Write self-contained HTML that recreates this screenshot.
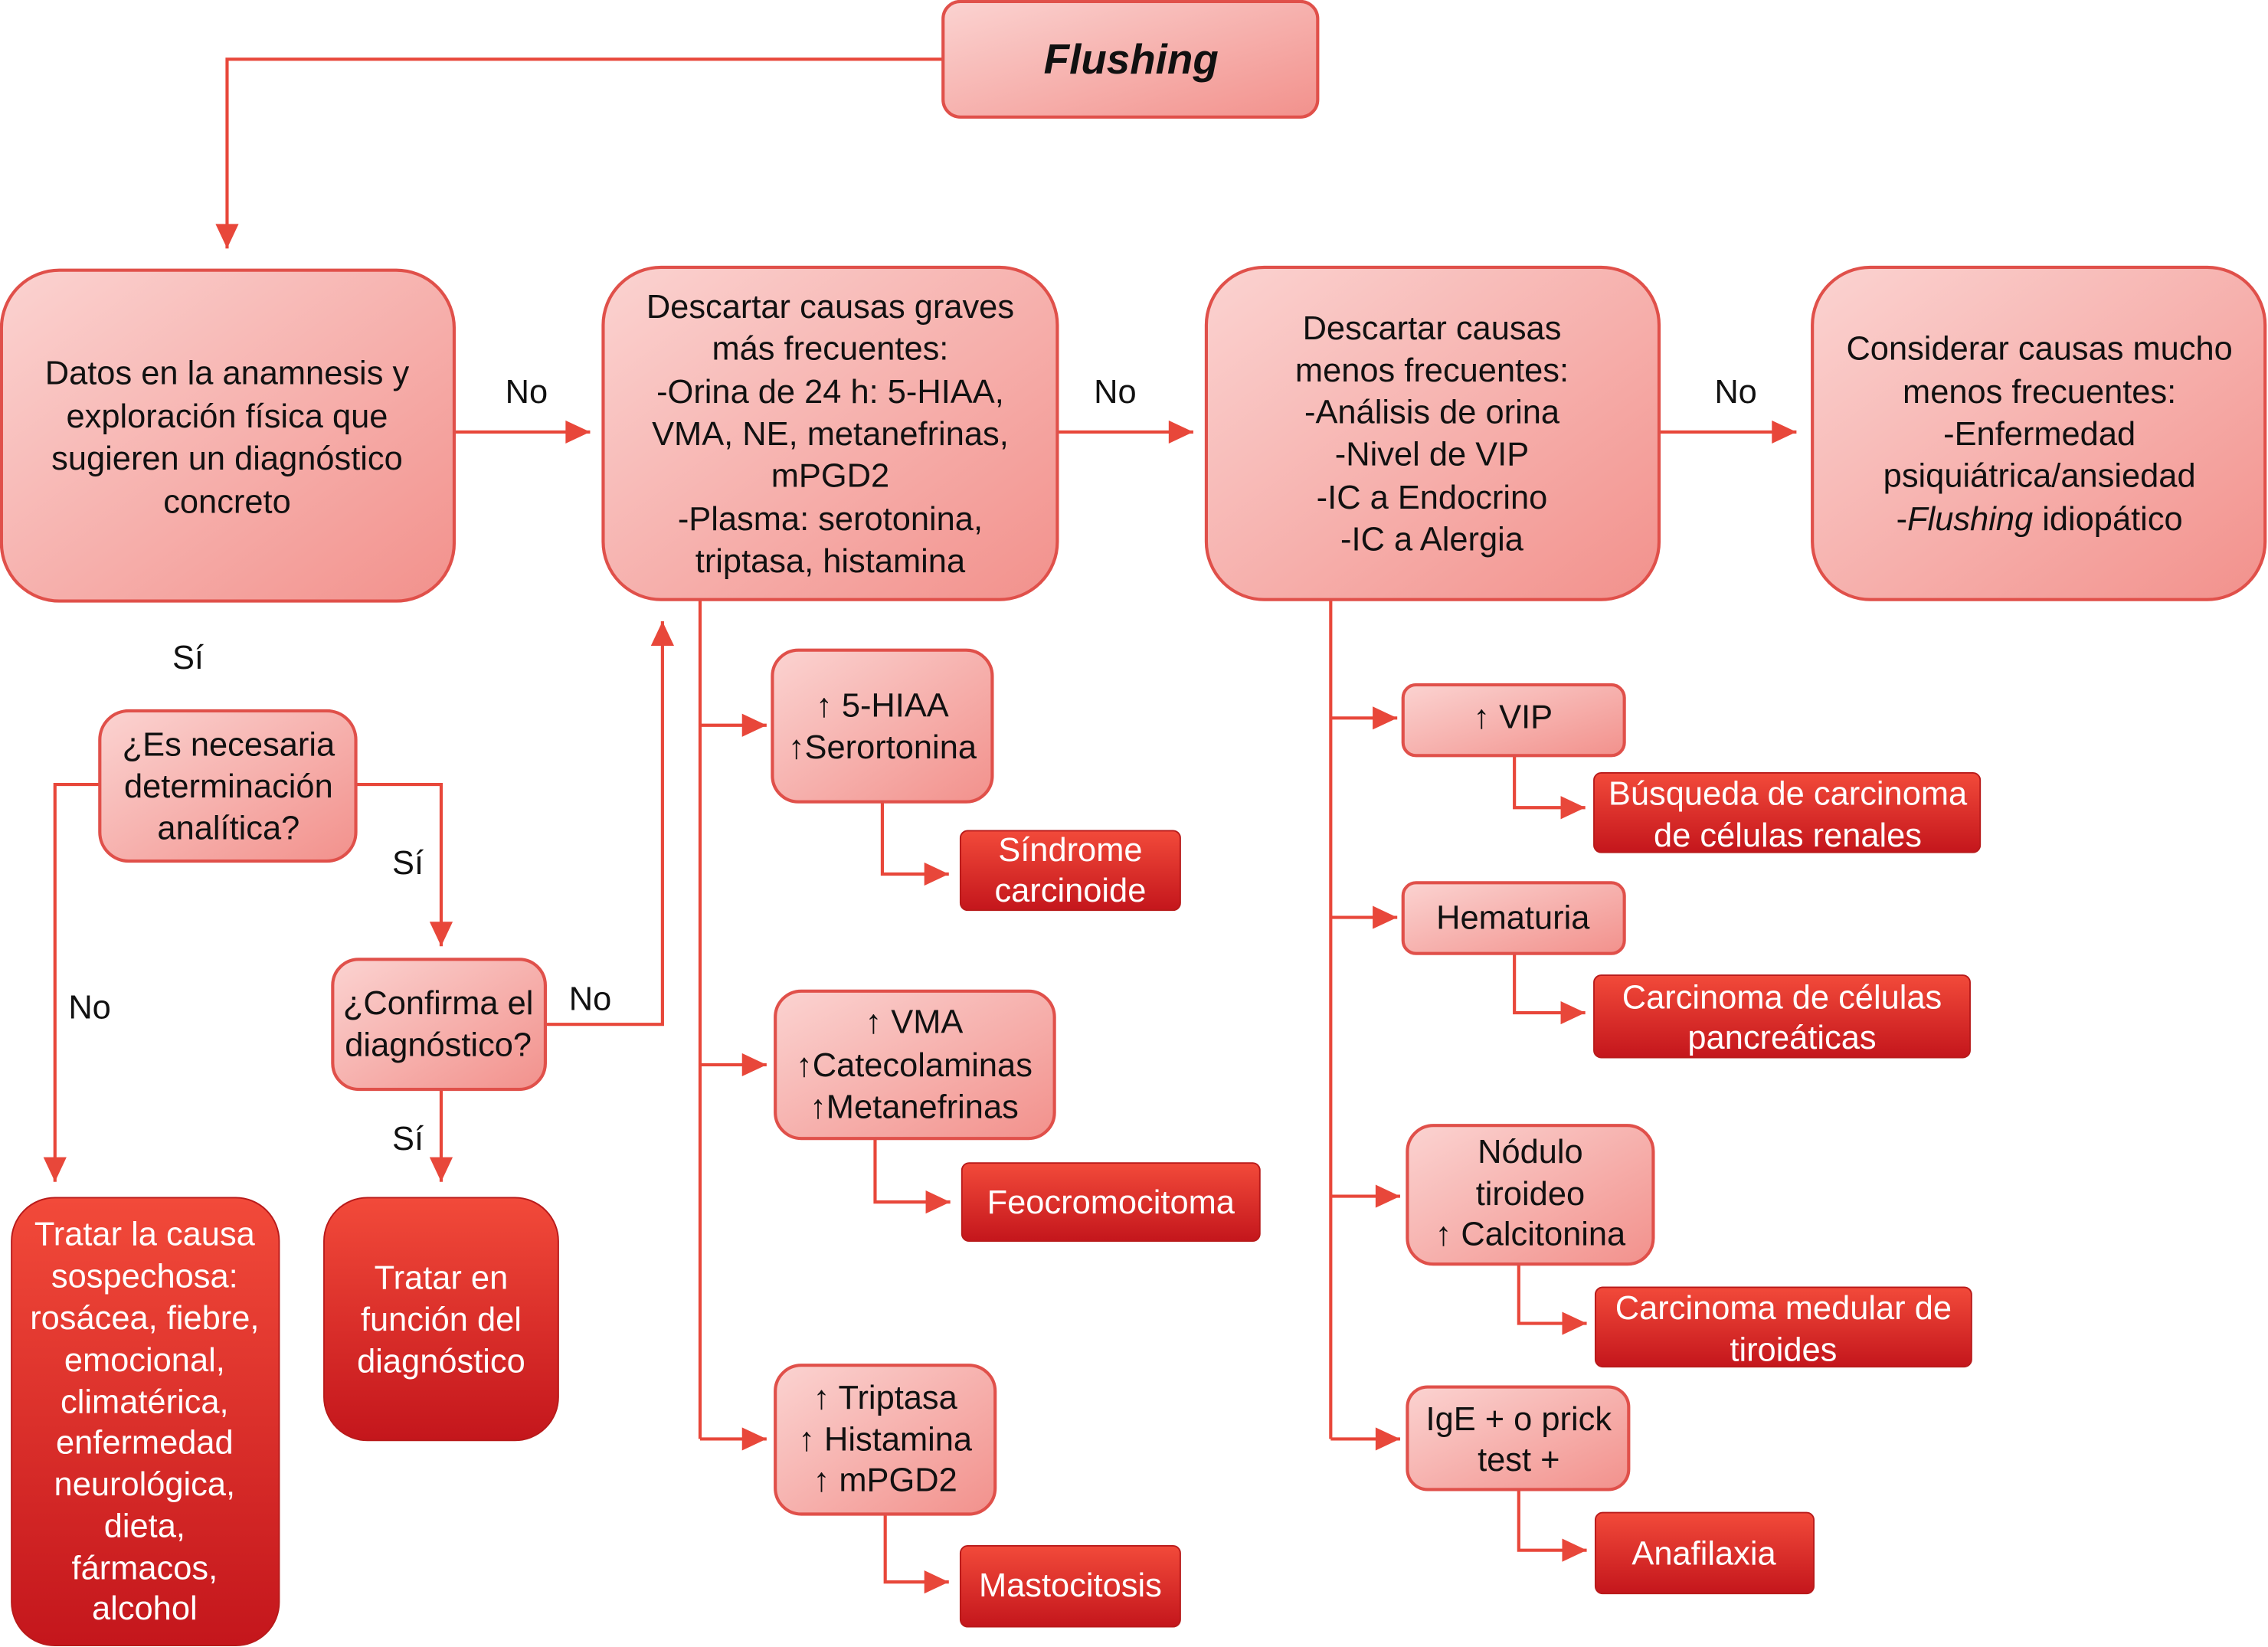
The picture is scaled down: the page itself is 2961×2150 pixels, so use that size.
<!DOCTYPE html>
<html><head><meta charset="utf-8"><style>
html,body{margin:0;padding:0;background:#fff;}
svg{display:block}
text{font-family:"Liberation Sans",Arial,sans-serif;font-size:23px;fill:#111;text-anchor:middle;}
.w{fill:#fff}
</style></head><body>
<svg width="2961" height="2150" viewBox="0 0 1568 1140" preserveAspectRatio="none" xmlns="http://www.w3.org/2000/svg">
<defs>
<linearGradient id="p" x1="0" y1="0" x2="1" y2="1"><stop offset="0" stop-color="#fbd3d1"/><stop offset="1" stop-color="#f2918c"/></linearGradient>
<linearGradient id="d" x1="0" y1="0" x2="0" y2="1"><stop offset="0" stop-color="#f24a3a"/><stop offset="1" stop-color="#c4161c"/></linearGradient>
<marker id="a" markerWidth="10" markerHeight="10" refX="9" refY="5" orient="auto" markerUnits="userSpaceOnUse" viewBox="0 0 10 10" style="overflow:visible"><path d="M-8,-3 L9,5 L-8,13 Z" fill="#e8473a"/></marker>
</defs>
<g fill="none" stroke="#e8473a" stroke-width="2.2">
<path d="M652,41 H157 V172" marker-end="url(#a)"/>
<path d="M314,299 H408" marker-end="url(#a)"/>
<path d="M731,299 H825" marker-end="url(#a)"/>
<path d="M1147,299 H1242" marker-end="url(#a)"/>
<path d="M246,543 H305 V655" marker-end="url(#a)"/>
<path d="M69,543 H38 V818" marker-end="url(#a)"/>
<path d="M377,709 H458 V430" marker-end="url(#a)"/>
<path d="M305,754 V818" marker-end="url(#a)"/>
<path d="M484,415 V996"/>
<path d="M484,502 H530" marker-end="url(#a)"/>
<path d="M484,737 H530" marker-end="url(#a)"/>
<path d="M484,996 H530" marker-end="url(#a)"/>
<path d="M610,555 V605 H656" marker-end="url(#a)"/>
<path d="M605,788 V832 H657" marker-end="url(#a)"/>
<path d="M612,1048 V1095 H656" marker-end="url(#a)"/>
<path d="M920,415 V996"/>
<path d="M920,497 H966" marker-end="url(#a)"/>
<path d="M920,635 H966" marker-end="url(#a)"/>
<path d="M920,828 H968" marker-end="url(#a)"/>
<path d="M920,996 H968" marker-end="url(#a)"/>
<path d="M1047,523 V559 H1096" marker-end="url(#a)"/>
<path d="M1047,660 V701 H1096" marker-end="url(#a)"/>
<path d="M1050,875 V916 H1097" marker-end="url(#a)"/>
<path d="M1050,1031 V1073 H1097" marker-end="url(#a)"/>
</g>
<g fill="url(#p)" stroke="#e0504a" stroke-width="2.2">
<rect x="652" y="1" width="259" height="80" rx="12"/>
<rect x="1" y="187" width="313" height="229" rx="40"/>
<rect x="417" y="185" width="314" height="230" rx="40"/>
<rect x="834" y="185" width="313" height="230" rx="40"/>
<rect x="1253" y="185" width="313" height="230" rx="40"/>
<rect x="69" y="492" width="177" height="104" rx="20"/>
<rect x="230" y="664" width="147" height="90" rx="18"/>
<rect x="534" y="450" width="152" height="105" rx="18"/>
<rect x="536" y="686" width="193" height="102" rx="18"/>
<rect x="536" y="945" width="152" height="103" rx="18"/>
<rect x="970" y="474" width="153" height="49" rx="9"/>
<rect x="970" y="611" width="153" height="49" rx="9"/>
<rect x="973" y="779" width="170" height="96" rx="18"/>
<rect x="973" y="960" width="153" height="71" rx="14"/>
</g>
<g fill="url(#d)" stroke="#b81a1a" stroke-width="1">
<rect x="8" y="829" width="185" height="310" rx="30"/>
<rect x="224" y="829" width="162" height="168" rx="30"/>
<rect x="664" y="575" width="152" height="55" rx="5"/>
<rect x="665" y="805" width="206" height="54" rx="5"/>
<rect x="664" y="1070" width="152" height="56" rx="5"/>
<rect x="1102" y="535" width="267" height="55" rx="5"/>
<rect x="1102" y="675" width="260" height="57" rx="5"/>
<rect x="1103" y="891" width="260" height="55" rx="5"/>
<rect x="1103" y="1047" width="151" height="56" rx="5"/>
</g>
<text x="782" y="51" style="font-size:29px;font-weight:bold;font-style:italic">Flushing</text>
<g>
<text x="157" y="266">Datos en la anamnesis y</text>
<text x="157" y="296">exploración física que</text>
<text x="157" y="325">sugieren un diagnóstico</text>
<text x="157" y="355">concreto</text>
<text x="574" y="220">Descartar causas graves</text>
<text x="574" y="249">más frecuentes:</text>
<text x="574" y="279">-Orina de 24 h: 5-HIAA,</text>
<text x="574" y="308">VMA, NE, metanefrinas,</text>
<text x="574" y="337">mPGD2</text>
<text x="574" y="367">-Plasma: serotonina,</text>
<text x="574" y="396">triptasa, histamina</text>
<text x="990" y="235">Descartar causas</text>
<text x="990" y="264">menos frecuentes:</text>
<text x="990" y="293">-Análisis de orina</text>
<text x="990" y="322">-Nivel de VIP</text>
<text x="990" y="352">-IC a Endocrino</text>
<text x="990" y="381">-IC a Alergia</text>
<text x="1410" y="249">Considerar causas mucho</text>
<text x="1410" y="279">menos frecuentes:</text>
<text x="1410" y="308">-Enfermedad</text>
<text x="1410" y="337">psiquiátrica/ansiedad</text>
<text x="1410" y="367">-<tspan font-style="italic">Flushing</tspan> idiopático</text>
<text x="364" y="279">No</text>
<text x="771" y="279">No</text>
<text x="1200" y="279">No</text>
<text x="130" y="463">Sí</text>
<text x="158" y="523">¿Es necesaria</text>
<text x="158" y="552">determinación</text>
<text x="158" y="581">analítica?</text>
<text x="282" y="605">Sí</text>
<text x="62" y="705">No</text>
<text x="303" y="702">¿Confirma el</text>
<text x="303" y="731">diagnóstico?</text>
<text x="408" y="699">No</text>
<text x="282" y="796">Sí</text>
<text x="610" y="496">↑ 5-HIAA</text>
<text x="610" y="525">↑Serortonina</text>
<text x="632" y="715">↑ VMA</text>
<text x="632" y="745">↑Catecolaminas</text>
<text x="632" y="774">↑Metanefrinas</text>
<text x="612" y="975">↑ Triptasa</text>
<text x="612" y="1004">↑ Histamina</text>
<text x="612" y="1032">↑ mPGD2</text>
<text x="1046" y="504">↑ VIP</text>
<text x="1046" y="643">Hematuria</text>
<text x="1058" y="805">Nódulo</text>
<text x="1058" y="834">tiroideo</text>
<text x="1058" y="862">↑ Calcitonina</text>
<text x="1050" y="990">IgE + o prick</text>
<text x="1050" y="1018">test +</text>
</g>
<g class="w">
<text class="w" x="100" y="862">Tratar la causa</text>
<text class="w" x="100" y="891">sospechosa:</text>
<text class="w" x="100" y="920">rosácea, fiebre,</text>
<text class="w" x="100" y="949">emocional,</text>
<text class="w" x="100" y="978">climatérica,</text>
<text class="w" x="100" y="1006">enfermedad</text>
<text class="w" x="100" y="1035">neurológica,</text>
<text class="w" x="100" y="1064">dieta,</text>
<text class="w" x="100" y="1093">fármacos,</text>
<text class="w" x="100" y="1121">alcohol</text>
<text class="w" x="305" y="892">Tratar en</text>
<text class="w" x="305" y="921">función del</text>
<text class="w" x="305" y="950">diagnóstico</text>
<text class="w" x="740" y="596">Síndrome</text>
<text class="w" x="740" y="624">carcinoide</text>
<text class="w" x="768" y="840">Feocromocitoma</text>
<text class="w" x="740" y="1105">Mastocitosis</text>
<text class="w" x="1236" y="557">Búsqueda de carcinoma</text>
<text class="w" x="1236" y="586">de células renales</text>
<text class="w" x="1232" y="698">Carcinoma de células</text>
<text class="w" x="1232" y="726">pancreáticas</text>
<text class="w" x="1233" y="913">Carcinoma medular de</text>
<text class="w" x="1233" y="942">tiroides</text>
<text class="w" x="1178" y="1083">Anafilaxia</text>
</g>
</svg>
</body></html>
